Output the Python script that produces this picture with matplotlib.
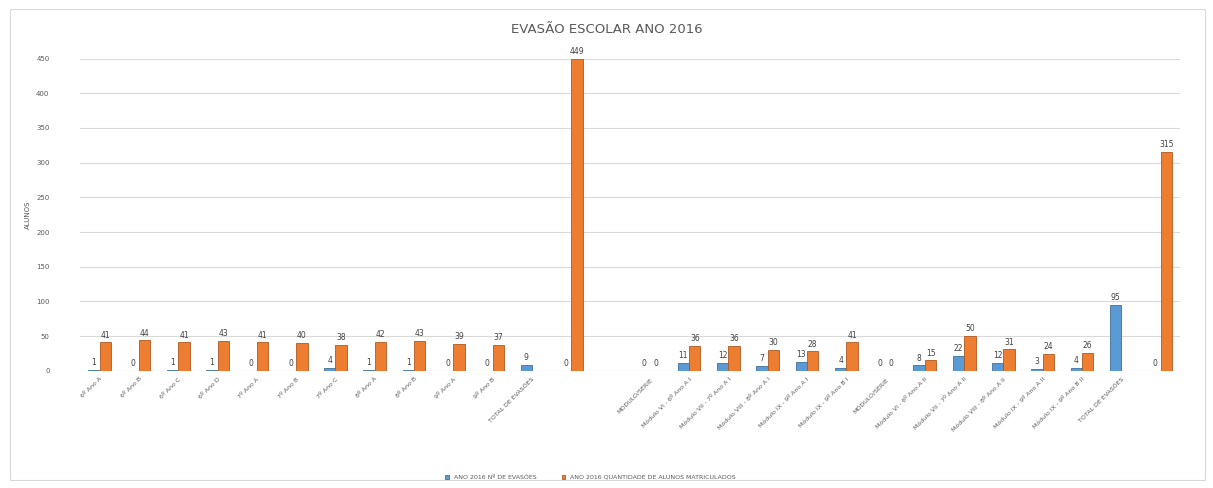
import numpy as np
import matplotlib.pyplot as plt
from matplotlib.patches import Rectangle

# categories (blank entries = empty slots in the original chart)
categories = [
    "6º Ano A", "6º Ano B", "6º Ano C", "6º Ano D", "7º Ano A", "7º Ano B",
    "7º Ano C", "8º Ano A", "8º Ano B", "9º Ano A", "9º Ano B",
    "TOTAL DE EVASÕES", "", "",
    "MÓDULO/SÉRIE", "Módulo VI - 6º Ano A I", "Módulo VII - 7º Ano A I",
    "Módulo VIII - 8º Ano A I", "Módulo IX - 9º Ano A I", "Módulo IX - 9º Ano B I",
    "MÓDULO/SÉRIE", "Módulo VI - 6º Ano A II", "Módulo VII - 7º Ano A II",
    "Módulo VIII - 8º Ano A II", "Módulo IX - 9º Ano A II", "Módulo IX - 9º Ano B II",
    "TOTAL DE EVASÕES", "",
]
nan = np.nan
evasoes = [1, 0, 1, 1, 0, 0, 4, 1, 1, 0, 0, 9, 0, nan,
           0, 11, 12, 7, 13, 4, 0, 8, 22, 12, 3, 4, 95, 0]
matriculados = [41, 44, 41, 43, 41, 40, 38, 42, 43, 39, 37, nan, 449, nan,
                0, 36, 36, 30, 28, 41, 0, 15, 50, 31, 24, 26, nan, 315]

serie_labels = ["ANO 2016 Nº DE EVASÕES", "ANO 2016 QUANTIDADE DE ALUNOS MATRICULADOS"]
blue = "#5B9BD5"
orange = "#ED7D31"
txt = "#595959"

fig = plt.figure(figsize=(12.13, 4.88), dpi=100)
ax = fig.add_axes([0.066, 0.24, 0.907, 0.64])

x = np.arange(len(categories))
w = 0.29
b1 = ax.bar(x - w / 2, evasoes, w, color=blue, edgecolor="#41719C", linewidth=0.6,
            label=serie_labels[0], zorder=3)
b2 = ax.bar(x + w / 2, matriculados, w, color=orange, edgecolor="#AE5A21", linewidth=0.6,
            label=serie_labels[1], zorder=3)

for bars, vals in ((b1, evasoes), (b2, matriculados)):
    for rect, v in zip(bars, vals):
        if np.isnan(v):
            continue
        ax.text(rect.get_x() + rect.get_width() / 2, v + 4, f"{int(v)}",
                ha="center", va="bottom", fontsize=5.5, color="#404040")

ax.set_xlim(-0.5, len(categories) - 0.5)
ax.set_ylim(0, 450)
ax.set_yticks(np.arange(0, 451, 50))
ax.yaxis.grid(True, color="#D9D9D9", linewidth=0.8, zorder=0)
ax.set_xticks(x)
ax.set_xticklabels(categories, rotation=45, ha="right", rotation_mode="anchor",
                   fontsize=4.5, color=txt)
ax.tick_params(axis="y", length=0, labelsize=5, labelcolor=txt, pad=22)
ax.tick_params(axis="x", length=0, pad=4)
for s in ax.spines.values():
    s.set_visible(False)
ax.axhline(0, color="#D9D9D9", linewidth=0.8, zorder=1)

ax.set_ylabel("ALUNOS", fontsize=5, color=txt, labelpad=4)
fig.text(0.5, 0.94, "EVASÃO ESCOLAR ANO 2016", ha="center", va="center",
         fontsize=9.5, color=txt)

fig.legend(loc="center", bbox_to_anchor=(0.487, 0.022), ncol=2, frameon=False,
           fontsize=4.5, labelcolor=txt, handlelength=0.6, handleheight=0.6,
           columnspacing=4)

fig.patches.append(Rectangle((0.008, 0.016), 0.985, 0.965, transform=fig.transFigure,
                             fill=False, edgecolor="#D9D9D9", linewidth=0.8))

fig.savefig("out.png", dpi=100)
